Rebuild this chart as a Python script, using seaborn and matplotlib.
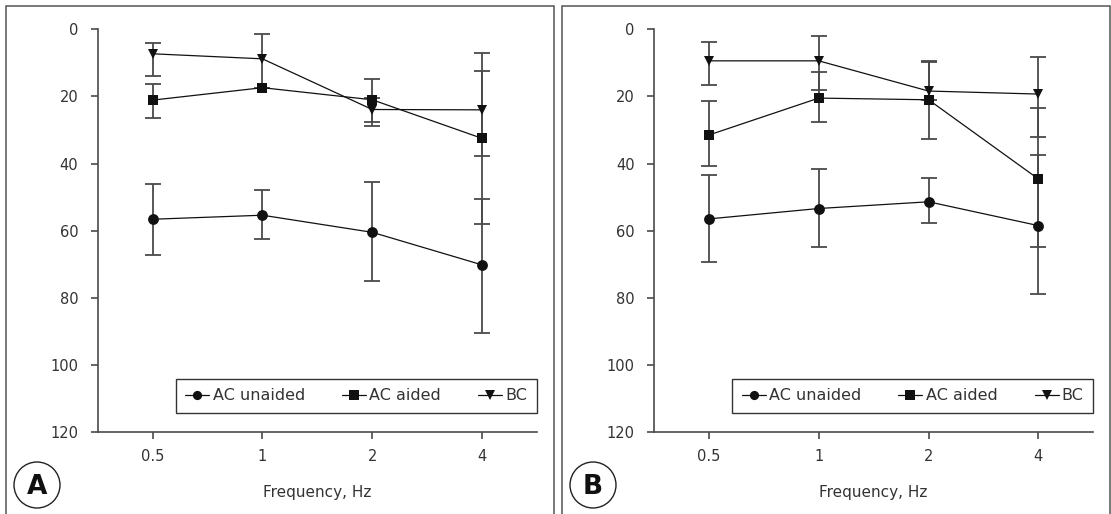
import numpy as np
import pandas as pd
import matplotlib
matplotlib.use("Agg")
import matplotlib.pyplot as plt
from matplotlib.patches import Rectangle, Ellipse
import seaborn as sns

# frequencies on the x axis
freqs = ["0.5", "1", "2", "4"]
seriesNames = ["AC unaided", "AC aided", "BC"]

# panel A : mean threshold and the two ends of each error bar (nan = no bar drawn)
aUnaided = [56.6, 55.4, 60.5, 70.2]
aUnaidedTop = [46.0, 47.8, 45.4, 50.6]
aUnaidedBot = [67.3, 62.4, 75.0, 90.6]
aAided = [21.1, 17.4, 21.0, 32.5]
aAidedTop = [16.4, np.nan, 14.9, 7.2]
aAidedBot = [26.3, np.nan, 27.7, 58.0]
aBC = [7.3, 8.8, 23.9, 24.0]
aBCTop = [4.0, 1.4, 20.5, 12.5]
aBCBot = [14.0, 17.4, 28.8, 37.7]

# panel B
bUnaided = [56.5, 53.4, 51.4, 58.5]
bUnaidedTop = [43.3, 41.5, 44.2, 37.6]
bUnaidedBot = [69.4, 65.0, 57.8, 78.9]
bAided = [31.5, 20.5, 21.0, 44.6]
bAidedTop = [21.3, 12.6, 9.3, 23.5]
bAidedBot = [40.7, 27.5, 32.7, 65.0]
bBC = [9.4, 9.4, 18.4, 19.3]
bBCTop = [3.7, 1.9, 9.8, 8.2]
bBCBot = [16.6, 18.1, 21.0, 32.1]

panelA = {"AC unaided": (aUnaided, aUnaidedTop, aUnaidedBot),
          "AC aided": (aAided, aAidedTop, aAidedBot),
          "BC": (aBC, aBCTop, aBCBot)}
panelB = {"AC unaided": (bUnaided, bUnaidedTop, bUnaidedBot),
          "AC aided": (bAided, bAidedTop, bAidedBot),
          "BC": (bBC, bBCTop, bBCBot)}

sns.set_theme(style="white")
plt.rcParams['font.family'] = ['DejaVu Sans']

W, H = 1111, 514
fig = plt.figure(figsize=(W / 100, H / 100), dpi=100)

grey = "#4a4a4a"
textCol = "#333333"


def drawPanel(ax, panel, letter, leftPx):
    rows = []
    for name in seriesNames:
        vals = panel[name][0]
        for i, v in enumerate(vals):
            rows.append({"pos": i, "value": v, "series": name})
    df = pd.DataFrame(rows)

    for name in seriesNames:
        vals, top, bot = [np.array(v, dtype=float) for v in panel[name]]
        pos = np.arange(len(freqs))
        ok = ~np.isnan(top)
        ax.errorbar(pos[ok], vals[ok], yerr=[vals[ok] - top[ok], bot[ok] - vals[ok]],
                    fmt="none", ecolor=grey, elinewidth=1.3, capsize=5.5,
                    capthick=1.3, zorder=1)

    sns.lineplot(data=df, x="pos", y="value", style="series", style_order=seriesNames,
                 markers={"AC unaided": "o", "AC aided": "s", "BC": "v"},
                 dashes=False, color="#111111", linewidth=0.9, markersize=7.8,
                 markeredgewidth=0, ax=ax, zorder=3)

    handles, labels = ax.get_legend_handles_labels()
    keep = [(h, l) for h, l in zip(handles, labels) if l in seriesNames]
    leg = ax.legend([k[0] for k in keep], [k[1] for k in keep], ncol=3,
                    loc="lower left", bbox_to_anchor=(0.178, 0.047, 0.822, 0.082),
                    mode="expand", borderaxespad=0, fancybox=False, framealpha=1,
                    edgecolor="#333333", fontsize=11.5, handlelength=1.5,
                    handletextpad=0.2, columnspacing=1.7, borderpad=0.6,
                    markerscale=0.85)
    leg.get_frame().set_linewidth(1.0)
    for t in leg.get_texts():
        t.set_color(textCol)

    ax.set_ylim(120, 0)
    ax.set_xlim(-0.5, len(freqs) - 0.5)
    ax.set_yticks(range(0, 121, 20))
    ax.set_xticks(range(len(freqs)))
    ax.set_xticklabels(freqs)
    ax.set_ylabel("")
    ax.set_xlabel("Frequency, Hz", fontsize=11, color=textCol, labelpad=15)
    sns.despine(ax=ax)
    for s in ["left", "bottom"]:
        ax.spines[s].set_color(grey)
        ax.spines[s].set_linewidth(1.2)
    ax.tick_params(axis="y", left=True, length=5, width=1.2, color=grey, pad=9,
                   labelsize=10.5, labelcolor=textCol)
    ax.tick_params(axis="x", bottom=True, length=5, width=1.2, color=grey, pad=7,
                   labelsize=10.5, labelcolor=textCol)

    # panel frame and letter badge
    fig.add_artist(Rectangle(((leftPx) / W, -0.05), 548 / W, (508 / H) + 0.05,
                             transform=fig.transFigure, fill=False,
                             edgecolor="#555555", linewidth=1.1))
    cx, cy = (leftPx + 31) / W, 1 - 485 / H
    fig.add_artist(Ellipse((cx, cy), 46 / W, 46 / H, transform=fig.transFigure,
                           fill=False, edgecolor="#222222", linewidth=1.0))
    fig.text(cx, cy - 0.003, letter, ha="center", va="center", fontsize=19,
             fontweight="bold", color="#111111")


axA = fig.add_axes([97.7 / W, 1 - 432 / H, 439.3 / W, 402.7 / H])
axB = fig.add_axes([654 / W, 1 - 432 / H, 439.3 / W, 402.7 / H])
drawPanel(axA, panelA, "A", 6)
drawPanel(axB, panelB, "B", 562)

fig.savefig("out.png", dpi=100)
